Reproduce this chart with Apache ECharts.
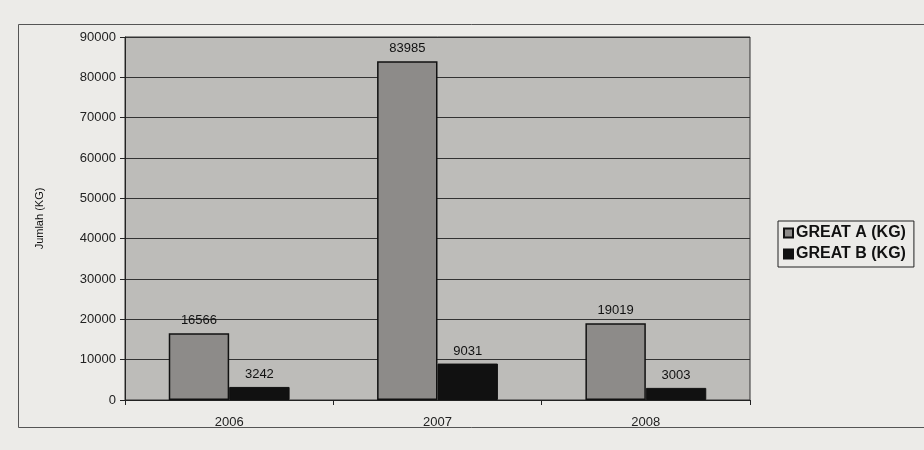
<!DOCTYPE html>
<html><head><meta charset="utf-8">
<script src="https://cdn.jsdelivr.net/npm/echarts@6/dist/echarts.min.js"></script>
<style>html,body{margin:0;padding:0;background:#ecebe8;}#c{width:924px;height:450px;}</style>
</head><body><div id="c"></div>
<script>
const categories = ['2006', '2007', '2008'];
const greatA = [16566, 83985, 19019];
const greatB = [3242, 9031, 3003];
const seriesNames = ['GREAT A (KG)', 'GREAT B (KG)'];
const yAxisName = 'Jumlah (KG)';

const chart = echarts.init(document.getElementById('c'));
const font = 'Liberation Sans, Arial, sans-serif';
chart.setOption({
  backgroundColor: '#ecebe8',
  animation: false,
  graphic: [{
    type: 'rect', left: 16, top: 22, shape: {width: 910, height: 403},
    style: {fill: 'none', stroke: '#555', lineWidth: 1}, silent: true
  }],
  legend: {
    orient: 'vertical', left: 778, top: 221, itemWidth: 9, itemHeight: 9, itemGap: 5,
    borderColor: '#222', borderWidth: 1, padding: [4, 8, 5, 5],
    textStyle: {fontFamily: font, fontWeight: 'bold', fontSize: 16, color: '#111', padding: [0, 0, 0, -2]},
    data: [{name: seriesNames[0], icon: 'rect'}, {name: seriesNames[1], icon: 'rect'}]
  },
  grid: {left: 125, right: 174, top: 37, bottom: 50, show: true, backgroundColor: '#bdbcb9', borderColor: '#333', borderWidth: 1},
  xAxis: {
    type: 'category', data: categories,
    axisLine: {lineStyle: {color: '#222'}}, axisTick: {show: true, lineStyle: {color: '#222'}},
    axisLabel: {fontFamily: font, fontSize: 13, color: '#222', margin: 16}
  },
  yAxis: {
    type: 'value', min: 0, max: 90000, interval: 10000,
    name: yAxisName, nameLocation: 'middle', nameRotate: 90, nameGap: 80,
    nameTextStyle: {fontFamily: font, fontSize: 11, color: '#111'},
    axisLine: {show: true, lineStyle: {color: '#222'}}, axisTick: {show: true, lineStyle: {color: '#222'}},
    axisLabel: {fontFamily: font, fontSize: 13, color: '#222', margin: 9, formatter: v => String(v)},
    splitLine: {lineStyle: {color: '#333', width: 1.2}}
  },
  series: [
    {name: seriesNames[0], type: 'bar', data: greatA, barGap: '0%', barCategoryGap: '42%',
     itemStyle: {color: '#8d8b89', borderColor: '#111', borderWidth: 1.5},
     label: {show: true, position: 'top', fontFamily: font, fontSize: 13, color: '#111', distance: 6}},
    {name: seriesNames[1], type: 'bar', data: greatB,
     itemStyle: {color: '#111', borderColor: '#111', borderWidth: 1},
     label: {show: true, position: 'top', fontFamily: font, fontSize: 13, color: '#111', distance: 6}}
  ]
});
</script></body></html>
